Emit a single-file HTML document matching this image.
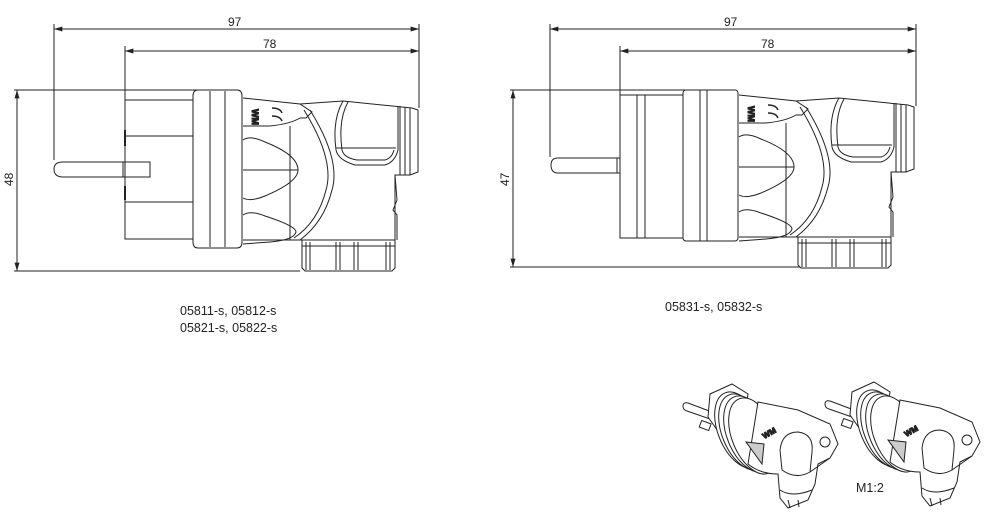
<!DOCTYPE html>
<html><head><meta charset="utf-8"><style>
html,body{margin:0;padding:0;background:#fff;}
svg{display:block;}
text{font-family:"Liberation Sans",sans-serif;fill:#222;}
</style></head><body>
<svg width="988" height="520" viewBox="0 0 988 520" xmlns="http://www.w3.org/2000/svg">
<defs>
<marker id="ar" viewBox="0 0 10 6" refX="10" refY="3" markerWidth="14" markerHeight="5" orient="auto-start-reverse" markerUnits="userSpaceOnUse"><path d="M0,0 L10,3 L0,6 z" fill="#222"/></marker>
<g id="head" fill="none" stroke="#222" stroke-width="1">
  <path d="M243,98 L300,104 L312,112 L306,118 L300,118 Q290,124 270,126 L243,126" fill="#fff"/>
  <text x="252" y="117" font-size="9" font-weight="bold" transform="rotate(90 256 113)">WM</text>
  <path d="M272,108 q8,0 10,5 M272,116 q8,0 10,5" stroke-width="1.5"/>
  <path d="M243,140 Q250,135 265,142 Q298,155 298,170 Q298,182 265,196 Q250,202 243,198" />
  <path d="M243,215 Q250,210 265,216 Q296,226 296,232 Q294,240 270,242 L243,244"/>
  <line x1="243" y1="170" x2="298" y2="170"/>
  <line x1="290" y1="126" x2="290" y2="240"/>
  <path d="M304,110 Q335,160 326,190 Q318,222 294,238"/>
  <path d="M310,110 Q341,160 332,190 Q324,222 300,240"/>
  <path d="M300,104 L343,101 L412,108 L418,110 L418,172 L410,175 L395,175 L395,240 L243,240"/>
  <path d="M343,101 Q332,120 336,150 Q338,160 355,165 L385,165 Q395,162 398,150 L398,106"/>
  <path d="M348,102 Q338,120 342,150 Q344,158 357,160 L385,160 Q392,158 394,150"/>
  <line x1="336" y1="148" x2="396" y2="148"/>
  <line x1="400" y1="106" x2="400" y2="175"/><line x1="405" y1="107" x2="405" y2="175"/><line x1="410" y1="108" x2="410" y2="175"/>
  <path d="M395,175 L397,200 L393,210 L397,215 L397,240"/>
  <path d="M302,240 L302,268 L305,271 L392,271 L395,268 L395,240"/>
  <line x1="306" y1="242" x2="306" y2="270"/><line x1="310" y1="242" x2="310" y2="270"/>
  <line x1="336" y1="242" x2="336" y2="270"/><line x1="340" y1="242" x2="340" y2="270"/>
  <line x1="354" y1="242" x2="354" y2="270"/><line x1="358" y1="242" x2="358" y2="270"/>
  <line x1="386" y1="242" x2="386" y2="270"/><line x1="390" y1="242" x2="390" y2="270"/>
  <line x1="302" y1="246" x2="395" y2="246"/>
</g>
<g id="iso" fill="#fff" stroke="#222" stroke-width="1">
  <path d="M32,40 L8,31 Q3,30 3,34 Q3,38 7,39 L30,47 Z"/>
  <path d="M30,22 L52,12 L68,22 L62,62 L40,62 L28,45 Z"/>
  <rect x="20" y="50" width="10" height="7" transform="rotate(20 25 54)"/>
  <ellipse cx="60" cy="58" rx="22" ry="40" transform="rotate(-22 60 58)"/>
  <ellipse cx="64" cy="60" rx="22" ry="40" transform="rotate(-22 64 60)"/>
  <ellipse cx="69" cy="62" rx="22" ry="40" transform="rotate(-22 69 62)"/>
  <ellipse cx="74" cy="64" rx="22" ry="40" transform="rotate(-22 74 64)"/>
  <path d="M78,30 L118,38 L150,52 L158,72 L150,86 L138,92 L135,112 L128,128 L108,136 L100,126 L98,102 Q80,102 68,92 Z"/>
  <text x="82" y="66" font-size="8" font-weight="bold" transform="rotate(-30 85 62)">WM</text>
  <path d="M66,70 L82,92 L84,72 Z" fill="#ccc"/>
  <path d="M100,78 Q102,60 118,60 Q134,62 132,80 L130,100 Q116,108 102,98 Z"/>
  <circle cx="145" cy="70" r="5"/>
  <path d="M130,100 L150,86"/>
  <path d="M100,118 Q112,126 132,118"/>
  <line x1="108" y1="128" x2="110" y2="136"/><line x1="118" y1="128" x2="119" y2="135"/>
</g>
</defs>

<g fill="none" stroke="#222" stroke-width="1">
  <line x1="54" y1="24" x2="54" y2="160"/>
  <line x1="125" y1="46" x2="125" y2="100"/>
  <line x1="419" y1="24" x2="419" y2="108"/>
  <line x1="14" y1="90" x2="200" y2="90"/>
  <line x1="14" y1="271" x2="300" y2="271"/>
  <line x1="54" y1="29" x2="419" y2="29" marker-start="url(#ar)" marker-end="url(#ar)"/>
  <line x1="125" y1="51" x2="419" y2="51" marker-start="url(#ar)" marker-end="url(#ar)"/>
  <line x1="17" y1="90" x2="17" y2="271" marker-start="url(#ar)" marker-end="url(#ar)"/>
  <path d="M150,162 L63,162 Q54,162 54,169 Q54,177 63,177 L150,177 Z"/>
  <line x1="125" y1="162" x2="125" y2="177"/><line x1="123" y1="162" x2="123" y2="177"/>
  <rect x="125" y="100" width="68" height="139"/>
  <line x1="125" y1="136" x2="193" y2="136"/><line x1="125" y1="202" x2="193" y2="202"/>
  <line x1="125" y1="130" x2="125" y2="146" stroke-width="2"/>
  <line x1="125" y1="186" x2="125" y2="200" stroke-width="2"/>
  <path d="M198,90 L237,90 Q242,90 242,96 L242,242 Q242,248 237,248 L198,248 Q193,248 193,242 L193,96 Q193,90 198,90 Z"/>
  <line x1="210" y1="91" x2="210" y2="247"/><line x1="225" y1="91" x2="225" y2="247"/>
</g>
<use href="#head"/>
<text x="228" y="26" font-size="12">97</text>
<text x="263" y="48" font-size="12">78</text>
<text x="0" y="0" font-size="12" transform="translate(13 186) rotate(-90)">48</text>

<g fill="none" stroke="#222" stroke-width="1">
  <line x1="550" y1="24" x2="550" y2="157"/>
  <line x1="620" y1="46" x2="620" y2="95"/>
  <line x1="916" y1="24" x2="916" y2="106"/>
  <line x1="510" y1="90" x2="700" y2="90"/>
  <line x1="510" y1="267" x2="800" y2="267"/>
  <line x1="550" y1="29" x2="916" y2="29" marker-start="url(#ar)" marker-end="url(#ar)"/>
  <line x1="620" y1="51" x2="916" y2="51" marker-start="url(#ar)" marker-end="url(#ar)"/>
  <line x1="513" y1="90" x2="513" y2="267" marker-start="url(#ar)" marker-end="url(#ar)"/>
  <path d="M620,158 L558,158 Q551,158 551,165 Q551,173 558,173 L620,173 Z"/>
  <line x1="617" y1="158" x2="617" y2="173"/>
  <rect x="620" y="95" width="63" height="143"/>
  <line x1="637" y1="95" x2="637" y2="238"/><line x1="645" y1="95" x2="645" y2="238"/>
  <rect x="683" y="90" width="55" height="151" rx="3"/>
  <line x1="700" y1="90" x2="700" y2="241"/><line x1="707" y1="90" x2="707" y2="241"/>
</g>
<use href="#head" transform="translate(496 -3)"/>
<text x="724" y="26" font-size="12">97</text>
<text x="761" y="48" font-size="12">78</text>
<text x="0" y="0" font-size="12" transform="translate(509 186) rotate(-90)">47</text>

<text x="180" y="315" font-size="12.5">05811-s, 05812-s</text>
<text x="180" y="332" font-size="12.5">05821-s, 05822-s</text>
<text x="665" y="311" font-size="12.5">05831-s, 05832-s</text>

<use href="#iso" transform="translate(680 372)"/>
<use href="#iso" transform="translate(822 370)"/>
<text x="856" y="492" font-size="12.5">M1:2</text>
</svg>
</body></html>
